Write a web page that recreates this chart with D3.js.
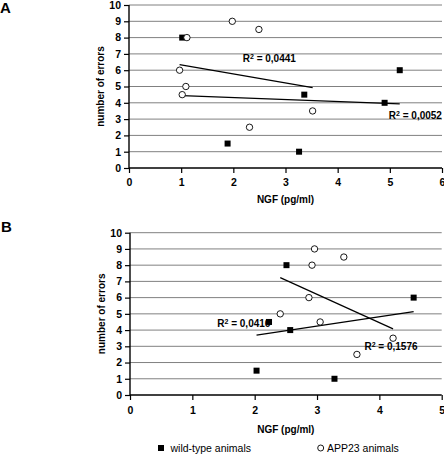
<!DOCTYPE html>
<html>
<head>
<meta charset="utf-8">
<script src="https://cdnjs.cloudflare.com/ajax/libs/d3/7.8.5/d3.min.js"></script>
<style>
  html, body { margin: 0; padding: 0; background: #fff; }
  svg { display: block; font-family: "Liberation Sans", Arial, Helvetica, sans-serif; }
</style>
</head>
<body>
<svg id="chart" width="444" height="454"></svg>
<script>
// ---- Data ----
// Panel A
const aWildX = [1.02, 3.36, 4.90, 5.19, 1.89, 3.26];
const aWildY = [8, 4.5, 4, 6, 1.5, 1];
const aAppX  = [1.11, 1.98, 2.49, 0.97, 1.09, 1.02, 3.52, 2.31];
const aAppY  = [8, 9, 8.5, 6, 5, 4.5, 3.5, 2.5];
// Panel B
const bWildX = [2.51, 4.55, 2.23, 2.57, 2.03, 3.28];
const bWildY = [8, 6, 4.5, 4, 1.5, 1];
const bAppX  = [2.96, 3.43, 2.92, 2.87, 2.41, 3.05, 4.22, 3.64];
const bAppY  = [9, 8.5, 8, 6, 5, 4.5, 3.5, 2.5];

const yTicks  = [0,1,2,3,4,5,6,7,8,9,10];
const aXTicks = [0,1,2,3,4,5,6];
const bXTicks = [0,1,2,3,4,5];

const aR2Labels = ["0,0441", "0,0052"];   // APP23 fit, wild-type fit
const bR2Labels = ["0,0416", "0,1576"];   // wild-type fit, APP23 fit

const xTitle = "NGF (pg/ml)";
const yTitle = "number of errors";
const legendLabels = ["wild-type animals", "APP23 animals"];

// ---- Layout ----
const svg = d3.select("#chart");

function linreg(xs, ys) {
  const n = xs.length;
  const mx = d3.mean(xs), my = d3.mean(ys);
  let sxy = 0, sxx = 0;
  for (let i = 0; i < n; i++) { sxy += (xs[i]-mx)*(ys[i]-my); sxx += (xs[i]-mx)**2; }
  const slope = sxy / sxx;
  const x0 = d3.min(xs), x1 = d3.max(xs);
  return [[x0, my + slope*(x0-mx)], [x1, my + slope*(x1-mx)]];
}

function panel(cfg) {
  const x = d3.scaleLinear().domain([0, cfg.xMax]).range([cfg.left, cfg.right]);
  const y = d3.scaleLinear().domain([0, 10]).range([cfg.bottom, cfg.top]);
  const g = svg.append("g");

  // gridlines
  g.append("g").selectAll("line").data(yTicks.filter(d => d > 0)).join("line")
    .attr("x1", cfg.left).attr("x2", cfg.right)
    .attr("y1", d => y(d)).attr("y2", d => y(d))
    .attr("stroke", "#808080").attr("stroke-width", 1);

  // axes
  const ya = g.append("g").attr("transform", `translate(${cfg.left},0)`)
    .call(d3.axisLeft(y).tickValues(yTicks).tickSize(5).tickPadding(3).tickFormat(d3.format("d")));
  const xa = g.append("g").attr("transform", `translate(0,${cfg.bottom})`)
    .call(d3.axisBottom(x).tickValues(cfg.xTicks).tickSize(5).tickPadding(cfg.xPad).tickFormat(d3.format("d")));
  [ya, xa].forEach(a => {
    a.select(".domain").attr("stroke", "#000").attr("stroke-width", 1.4);
    a.selectAll(".tick line").attr("stroke", "#000").attr("stroke-width", 1.2);
    a.selectAll("text").attr("font-size", 10.5).attr("font-weight", "bold").attr("fill", "#000")
      .attr("font-family", "Liberation Sans, Arial, sans-serif");
  });
  ya.select(".domain").attr("d", `M-0,${cfg.bottom}V${cfg.top}`);
  xa.select(".domain").attr("d", `M${cfg.left},0H${cfg.right}`);

  // titles
  g.append("text").attr("x", (cfg.left + cfg.right)/2).attr("y", cfg.xTitleY)
    .attr("text-anchor", "middle").attr("font-size", 10).attr("font-weight", "bold").text(xTitle);
  g.append("text").attr("transform", `translate(${cfg.yTitleX},${(cfg.top+cfg.bottom)/2}) rotate(-90)`)
    .attr("text-anchor", "middle").attr("dy", "0.35em").attr("font-size", 10).attr("font-weight", "bold").text(yTitle);
  g.append("text").attr("x", cfg.letterX).attr("y", cfg.letterY)
    .attr("font-size", 15).attr("font-weight", "bold").text(cfg.letter);

  // trend lines
  cfg.fits.forEach(f => {
    const [p0, p1] = linreg(f.xs, f.ys);
    g.append("line").attr("x1", x(p0[0])).attr("y1", y(p0[1]))
      .attr("x2", x(p1[0])).attr("y2", y(p1[1]))
      .attr("stroke", "#000").attr("stroke-width", 1.2);
  });

  // R² labels
  cfg.labels.forEach(l => {
    const t = g.append("text").attr("x", x(l.x)).attr("y", y(l.y)).attr("dy", "0.35em")
      .attr("font-size", 10).attr("font-weight", "bold");
    t.append("tspan").text("R");
    t.append("tspan").attr("font-size", 7).attr("dy", "-0.45em").text("2");
    t.append("tspan").attr("dy", "0.32em").text(" = " + l.text);
  });

  // markers
  const wild = cfg.wildX.map((v, i) => [v, cfg.wildY[i]]);
  const app = cfg.appX.map((v, i) => [v, cfg.appY[i]]);
  g.append("g").selectAll("rect").data(wild).join("rect")
    .attr("x", d => x(d[0]) - 3).attr("y", d => y(d[1]) - 3)
    .attr("width", 6).attr("height", 6).attr("fill", "#000");
  g.append("g").selectAll("circle").data(app).join("circle")
    .attr("cx", d => x(d[0])).attr("cy", d => y(d[1])).attr("r", 3.2)
    .attr("fill", "#fff").attr("stroke", "#000").attr("stroke-width", 0.9);
}

panel({
  letter: "A", letterX: 0, letterY: 12.5,
  left: 129, right: 442, top: 5, bottom: 168, xMax: 6, xTicks: aXTicks, xPad: 6,
  xTitleY: 203, yTitleX: 100,
  wildX: aWildX, wildY: aWildY, appX: aAppX, appY: aAppY,
  fits: [{xs: aAppX, ys: aAppY}, {xs: aWildX, ys: aWildY}],
  labels: [{x: 2.18, y: 6.7, text: aR2Labels[0]}, {x: 4.98, y: 3.21, text: aR2Labels[1]}]
});

panel({
  letter: "B", letterX: 1, letterY: 232,
  left: 130, right: 441.7, top: 232.7, bottom: 395, xMax: 5, xTicks: bXTicks, xPad: 7,
  xTitleY: 433, yTitleX: 101.5,
  wildX: bWildX, wildY: bWildY, appX: bAppX, appY: bAppY,
  fits: [{xs: bWildX, ys: bWildY}, {xs: bAppX, ys: bAppY}],
  labels: [{x: 1.40, y: 4.42, text: bR2Labels[0]}, {x: 3.76, y: 2.98, text: bR2Labels[1]}]
});

// legend
const leg = svg.append("g");
leg.append("rect").attr("x", 158).attr("y", 445).attr("width", 6).attr("height", 6).attr("fill", "#000");
leg.append("text").attr("x", 170.5).attr("y", 452).attr("font-size", 10.5).text(legendLabels[0]);
leg.append("circle").attr("cx", 320.7).attr("cy", 448).attr("r", 3).attr("fill", "#fff").attr("stroke", "#000").attr("stroke-width", 0.9);
leg.append("text").attr("x", 327).attr("y", 452).attr("font-size", 10.5).text(legendLabels[1]);
</script>
</body>
</html>
